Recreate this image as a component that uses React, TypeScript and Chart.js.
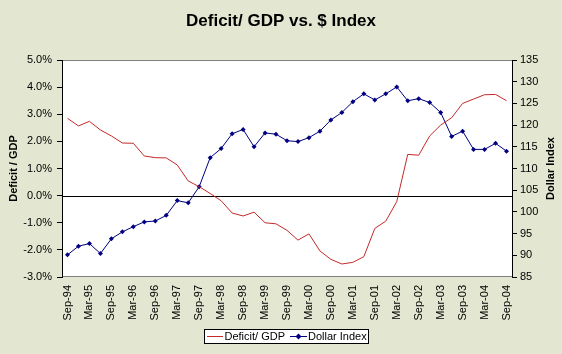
import React, { useEffect, useRef } from "react";
import { Chart, registerables } from "chart.js";

Chart.register(...registerables);

const quarters: string[] = [
  "Sep-94", "Dec-94", "Mar-95", "Jun-95", "Sep-95", "Dec-95", "Mar-96", "Jun-96",
  "Sep-96", "Dec-96", "Mar-97", "Jun-97", "Sep-97", "Dec-97", "Mar-98", "Jun-98",
  "Sep-98", "Dec-98", "Mar-99", "Jun-99", "Sep-99", "Dec-99", "Mar-00", "Jun-00",
  "Sep-00", "Dec-00", "Mar-01", "Jun-01", "Sep-01", "Dec-01", "Mar-02", "Jun-02",
  "Sep-02", "Dec-02", "Mar-03", "Jun-03", "Sep-03", "Dec-03", "Mar-04", "Jun-04",
  "Sep-04",
];

const deficitGdp: number[] = [
  2.85, 2.57, 2.74, 2.42, 2.2, 1.94, 1.93, 1.46, 1.4, 1.39,
  1.13, 0.54, 0.33, 0.08, -0.19, -0.64, -0.75, -0.61, -1.0, -1.04,
  -1.28, -1.64, -1.41, -2.04, -2.35, -2.52, -2.46, -2.25, -1.21, -0.94,
  -0.22, 1.52, 1.49, 2.2, 2.6, 2.87, 3.4, 3.56, 3.72, 3.73,
  3.5,
];

const dollarIndex: number[] = [
  90.1, 92.1, 92.7, 90.4, 93.8, 95.4, 96.6, 97.7, 97.9, 99.2,
  102.6, 102.1, 105.8, 112.5, 114.6, 118.0, 119.0, 115.0, 118.2, 117.9,
  116.4, 116.2, 117.1, 118.6, 121.2, 122.9, 125.4, 127.2, 125.8, 127.2,
  128.8, 125.6, 126.1, 125.2, 122.9, 117.4, 118.6, 114.4, 114.4, 115.8,
  114.0,
];

const chartTitle = "Deficit/ GDP vs. $ Index";
const leftTitle = "Deficit / GDP";
const rightTitle = "Dollar Index";
const seriesNames = ["Deficit/ GDP", "Dollar Index"];

const BG = "rgb(227,230,208)";
const RED = "#C42A2A";
const NAVY = "#000080";
const FONT = "'Liberation Sans', Arial, sans-serif";

export default function App() {
  const ref = useRef<HTMLCanvasElement | null>(null);

  useEffect(() => {
    document.body.style.margin = "0";
    const canvas = ref.current;
    if (!canvas) return;

    const decorPlugin = {
      id: "decor",
      beforeDraw(chart: any) {
        const ctx = chart.ctx;
        const a = chart.chartArea;
        ctx.save();
        ctx.fillStyle = BG;
        ctx.fillRect(0, 0, chart.width, chart.height);
        ctx.fillStyle = "#ffffff";
        ctx.fillRect(a.left, a.top, a.right - a.left, a.bottom - a.top);
        ctx.strokeStyle = "#808080";
        ctx.lineWidth = 1;
        ctx.beginPath();
        ctx.moveTo(a.left, Math.round(a.top) + 0.5);
        ctx.lineTo(a.right, Math.round(a.top) + 0.5);
        ctx.moveTo(a.left, Math.round(a.bottom) - 0.5);
        ctx.lineTo(a.right, Math.round(a.bottom) - 0.5);
        ctx.stroke();
        ctx.restore();
      },
      beforeDatasetsDraw(chart: any) {
        const ctx = chart.ctx;
        const a = chart.chartArea;
        const y0 = Math.round(chart.scales.y.getPixelForValue(0)) + 0.5;
        ctx.save();
        ctx.strokeStyle = "#000000";
        ctx.lineWidth = 1;
        ctx.beginPath();
        ctx.moveTo(a.left, y0);
        ctx.lineTo(a.right, y0);
        ctx.stroke();
        ctx.restore();
      },
      afterDraw(chart: any) {
        const ctx = chart.ctx;
        const a = chart.chartArea;
        const midY = (a.top + a.bottom) / 2;
        ctx.save();
        ctx.fillStyle = "#000";
        ctx.textAlign = "center";
        ctx.textBaseline = "middle";
        ctx.font = `bold 17px ${FONT}`;
        ctx.fillText(chartTitle, chart.width / 2, 21);

        ctx.font = `bold 11px ${FONT}`;
        ctx.save();
        ctx.translate(13.5, midY);
        ctx.rotate(-Math.PI / 2);
        ctx.fillText(leftTitle, 0, 0);
        ctx.restore();
        ctx.save();
        ctx.translate(551, midY);
        ctx.rotate(-Math.PI / 2);
        ctx.fillText(rightTitle, 0, 0);
        ctx.restore();

        // legend
        ctx.font = `11px ${FONT}`;
        const lx = 204.5, ly = 329.5, lw = 164, lh = 14;
        ctx.fillStyle = "#ffffff";
        ctx.fillRect(lx, ly, lw, lh);
        ctx.strokeStyle = "#000";
        ctx.lineWidth = 1;
        ctx.strokeRect(lx, ly, lw, lh);
        const cy = 336.5;
        ctx.strokeStyle = RED;
        ctx.beginPath();
        ctx.moveTo(207, cy);
        ctx.lineTo(223, cy);
        ctx.stroke();
        ctx.fillStyle = "#000";
        ctx.textAlign = "left";
        ctx.fillText(seriesNames[0], 224.5, cy);
        ctx.strokeStyle = NAVY;
        ctx.beginPath();
        ctx.moveTo(290, cy);
        ctx.lineTo(307, cy);
        ctx.stroke();
        ctx.fillStyle = NAVY;
        ctx.beginPath();
        ctx.moveTo(298.5, cy - 3);
        ctx.lineTo(301.5, cy);
        ctx.lineTo(298.5, cy + 3);
        ctx.lineTo(295.5, cy);
        ctx.closePath();
        ctx.fill();
        ctx.fillStyle = "#000";
        ctx.fillText(seriesNames[1], 308, cy);
        ctx.restore();
      },
    };

    const tickFont = { family: FONT, size: 11 };

    const chart = new Chart(canvas, {
      type: "line",
      data: {
        labels: quarters,
        datasets: [
          {
            label: seriesNames[0],
            data: deficitGdp,
            yAxisID: "y",
            borderColor: RED,
            borderWidth: 1,
            pointRadius: 0,
            tension: 0,
            fill: false,
          },
          {
            label: seriesNames[1],
            data: dollarIndex,
            yAxisID: "y1",
            borderColor: NAVY,
            backgroundColor: NAVY,
            borderWidth: 1,
            pointStyle: "rectRot",
            pointRadius: 2.5,
            pointBorderWidth: 0,
            tension: 0,
            fill: false,
          },
        ],
      },
      options: {
        responsive: false,
        animation: false,
        devicePixelRatio: 1,
        layout: { padding: { top: 60, left: 0, right: 0, bottom: 0 } },
        plugins: {
          legend: { display: false },
          title: { display: false },
          tooltip: { enabled: false },
        },
        scales: {
          x: {
            type: "category",
            offset: true,
            grid: { display: false, drawTicks: false },
            border: { display: false },
            ticks: {
              autoSkip: false,
              maxRotation: 90,
              minRotation: 90,
              padding: 8,
              color: "#000",
              font: tickFont,
              callback: (_v: any, i: number) => (i % 2 === 0 ? quarters[i] : ""),
            },
            afterFit: (s: any) => {
              s.height = 77;
            },
          },
          y: {
            position: "left",
            min: -3,
            max: 5,
            grid: {
              drawOnChartArea: false,
              drawTicks: true,
              tickLength: 5,
              tickColor: "#000",
            },
            border: { display: true, color: "#000" },
            ticks: {
              stepSize: 1,
              padding: 5,
              color: "#000",
              font: tickFont,
              callback: (v: any) => Number(v).toFixed(1) + "%",
            },
            afterFit: (s: any) => {
              s.width = 62;
            },
          },
          y1: {
            position: "right",
            min: 85,
            max: 135,
            grid: {
              drawOnChartArea: false,
              drawTicks: true,
              tickLength: 5,
              tickColor: "#000",
            },
            border: { display: true, color: "#000" },
            ticks: {
              stepSize: 5,
              padding: 3,
              color: "#000",
              font: tickFont,
            },
            afterFit: (s: any) => {
              s.width = 50;
            },
          },
        },
      },
      plugins: [decorPlugin],
    } as any);

    return () => chart.destroy();
  }, []);

  return <canvas ref={ref} width={562} height={354} style={{ display: "block" }} />;
}
